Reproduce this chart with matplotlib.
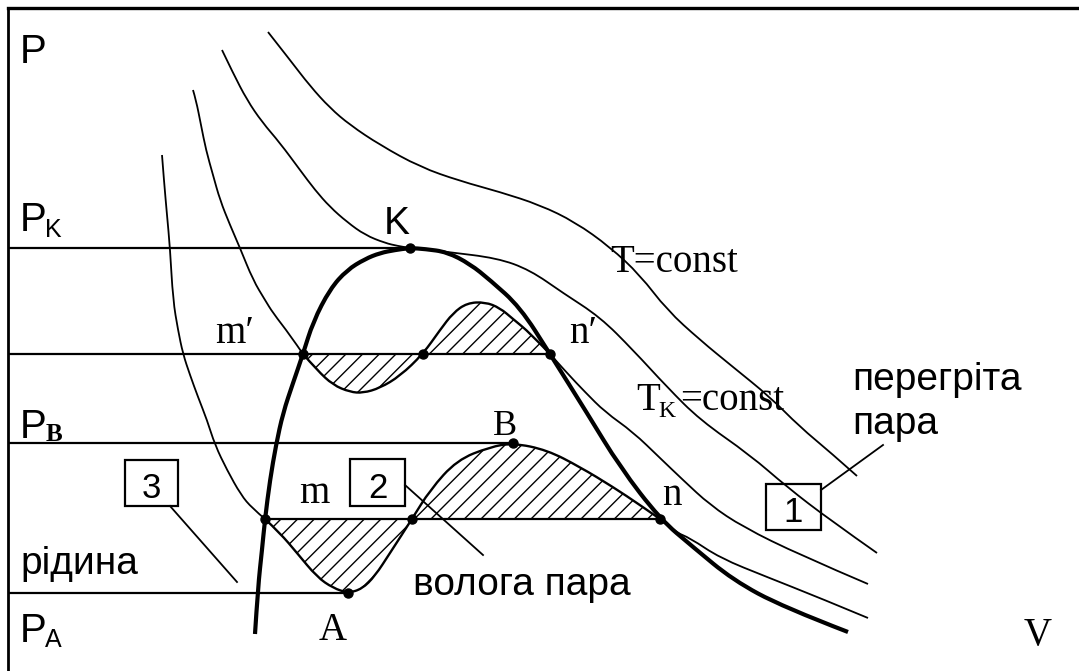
import matplotlib
matplotlib.use("Agg")
import matplotlib.pyplot as plt
from matplotlib.patches import Rectangle, PathPatch
from matplotlib.path import Path

# pressure levels of the horizontal lines
p_k = 423
p_m2 = 317
p_b = 228
p_m = 152
p_a = 78

# isotherm 1 (lowest T): liquid branch, loop m-A-B-n, vapour branch
iso1_left_v = [162, 164, 167, 170, 173, 178, 183, 190, 198, 207, 215, 227, 241, 252, 265]
iso1_left_p = [516, 490, 456, 423, 371, 341, 317, 296, 274, 251, 226, 201, 176, 163, 152]
iso1_loop_v = [265, 280, 297, 317, 333, 348, 362, 375, 390, 412, 430, 457, 490, 513, 547, 580, 613, 640, 660]
iso1_loop_p = [152, 138, 118, 94, 83, 78, 82, 95, 118, 152, 181, 211, 224, 228, 221, 204, 184, 166, 152]
iso1_right_v = [660, 675, 690, 720, 767, 820, 868]
iso1_right_p = [152, 139, 133, 113, 94, 73, 53]

# isotherm 2: liquid branch, loop m'-n', vapour branch
iso2_left_v = [193, 196, 201, 206, 213, 220, 230, 240, 253, 265, 273, 290, 303]
iso2_left_p = [581, 571, 546, 521, 496, 471, 446, 423, 391, 371, 358, 336, 317]
iso2_loop_v = [303, 317, 333, 350, 363, 380, 400, 423, 440, 453, 467, 485, 500, 513, 530, 550]
iso2_loop_p = [317, 301, 286, 279, 278, 283, 295, 317, 341, 358, 368, 369, 363, 352, 338, 317]
iso2_right_v = [550, 567, 585, 605, 633, 660, 683, 710, 743, 800, 868]
iso2_right_p = [317, 298, 279, 259, 239, 213, 191, 166, 144, 116, 87]

# critical isotherm T_K
iso_k_v = [222, 233, 247, 262, 280, 300, 315, 330, 347, 365, 385, 398, 410, 425, 447, 497, 530, 563, 600, 633, 667, 700, 750, 787, 830, 877]
iso_k_p = [621, 598, 571, 549, 528, 501, 481, 464, 449, 436, 428, 425, 423, 422, 419, 413, 401, 378, 354, 321, 284, 251, 216, 184, 151, 118]

# isotherm above critical
iso_t_v = [268, 290, 310, 330, 350, 380, 420, 460, 500, 540, 575, 610, 640, 667, 700, 733, 770, 800, 830, 857]
iso_t_p = [639, 611, 585, 563, 546, 526, 504, 490, 479, 466, 449, 424, 396, 361, 331, 304, 274, 244, 219, 195]

# saturation curve through K
sat_v = [255, 258, 262, 265, 270, 276, 283, 293, 303, 313, 330, 347, 365, 380, 395, 410, 425, 447, 470, 490, 520, 550, 587, 620, 660, 693, 733, 783, 848]
sat_p = [37, 84, 121, 152, 191, 226, 258, 288, 317, 349, 382, 401, 412, 418, 421, 423, 422, 419, 407, 391, 364, 317, 258, 204, 152, 124, 91, 64, 39]

# marked points: m, A, B, n, m', n', K and the loop crossings
dot_v = [265, 348, 412, 513, 660, 303, 423, 550, 410]
dot_p = [152, 78, 152, 228, 152, 317, 317, 317, 423]

# horizontal lines: (start, end, level)
hlines = [(8, 410, p_k), (8, 550, p_m2), (8, 513, p_b), (265, 660, p_m), (8, 348, p_a)]

# numbered boxes: (left, bottom, right, top, label) and their leader lines
boxes = [(125, 165, 178, 211, "3"), (350, 165, 405, 212, "2"), (766, 141, 821, 187, "1")]
leaders = [((170, 237), (165, 89)), ((405, 483), (186, 116)), ((821, 883), (181, 226))]

sans = "Liberation Sans"
serif = "Liberation Serif"


def smooth_path(xs, ys, close=False):
    # quadratic B-spline through the midpoints, clamped at both ends
    pts = list(zip(xs, ys))
    verts = [pts[0]]
    codes = [Path.MOVETO]
    for i in range(1, len(pts) - 1):
        if i < len(pts) - 2:
            end = ((pts[i][0] + pts[i + 1][0]) / 2, (pts[i][1] + pts[i + 1][1]) / 2)
        else:
            end = pts[-1]
        verts += [pts[i], end]
        codes += [Path.CURVE3, Path.CURVE3]
    if close:
        verts.append(pts[0])
        codes.append(Path.CLOSEPOLY)
    return Path(verts, codes)


def curve(ax, xs, ys, lw):
    ax.add_patch(PathPatch(smooth_path(xs, ys), fill=False, lw=lw, ec="black",
                           joinstyle="round", capstyle="butt"))


fig = plt.figure(figsize=(10.79, 6.71), dpi=100)
ax = fig.add_axes([8 / 1079, 0, 1071 / 1079, 663 / 671])
ax.set_xlim(8, 1079)
ax.set_ylim(0, 663)
ax.set_xticks([])
ax.set_yticks([])
for side in ["right", "bottom"]:
    ax.spines[side].set_visible(False)
ax.spines["left"].set_linewidth(2)
ax.spines["top"].set_linewidth(2.4)

# hatched areas between the loops and the straight lines
for lv, lp in [(iso1_loop_v, iso1_loop_p), (iso2_loop_v, iso2_loop_p)]:
    ax.add_patch(PathPatch(smooth_path(lv, lp, close=True), hatch="//",
                           facecolor="none", edgecolor="black", lw=0))

for x0, x1, lev in hlines:
    ax.plot([x0, x1], [lev, lev], color="black", lw=1.6)

curve(ax, iso1_left_v, iso1_left_p, 1.3)
curve(ax, iso1_loop_v, iso1_loop_p, 1.7)
curve(ax, iso1_right_v, iso1_right_p, 1.3)
curve(ax, iso2_left_v, iso2_left_p, 1.3)
curve(ax, iso2_loop_v, iso2_loop_p, 1.7)
curve(ax, iso2_right_v, iso2_right_p, 1.3)
curve(ax, iso_k_v, iso_k_p, 1.3)
curve(ax, iso_t_v, iso_t_p, 1.3)
curve(ax, sat_v, sat_p, 3)

ax.plot(dot_v, dot_p, "o", color="black", ms=6.5, ls="none")

for x0, y0, x1, y1, num in boxes:
    ax.add_patch(Rectangle((x0, y0), x1 - x0, y1 - y0, fill=False, lw=1.6, ec="black"))
    ax.text((x0 + x1) / 2, y0 + 8, num, fontsize=25, family=sans, ha="center", va="baseline")
for xs, ys in leaders:
    ax.plot(xs, ys, color="black", lw=1.3)

# axis letters
ax.text(20, 619, "P", fontsize=29, family=sans, va="center")
ax.text(20, 451, "P", fontsize=29, family=sans, va="center")
ax.text(45, 434, "K", fontsize=18, family=sans, va="baseline")
ax.text(20, 244, "P", fontsize=29, family=sans, va="center")
ax.text(46, 230, "B", fontsize=18, family=serif, va="baseline", weight="bold")
ax.text(20, 40, "P", fontsize=29, family=sans, va="center")
ax.text(45, 24, "A", fontsize=18, family=sans, va="baseline")
ax.text(1038, 26, "V", fontsize=28, family=serif, ha="center", va="baseline")

# point names
ax.text(397, 437, "K", fontsize=28, family=sans, ha="center", va="baseline")
ax.text(235, 328, "m\u2032", fontsize=28, family=serif, ha="center", va="baseline")
ax.text(583, 328, "n\u2032", fontsize=28, family=serif, ha="center", va="baseline")
ax.text(505, 236, "B", fontsize=26, family=serif, ha="center", va="baseline")
ax.text(314, 168, "m", fontsize=28, family=serif, ha="center", va="baseline")
ax.text(672, 166, "n", fontsize=28, family=serif, ha="center", va="baseline")
ax.text(333, 31, "A", fontsize=28, family=serif, ha="center", va="baseline")

# isotherm names
ax.text(610, 399, "T=const", fontsize=28, family=serif, va="baseline")
ax.text(636, 261, "T", fontsize=28, family=serif, va="baseline")
ax.text(658, 254, "K", fontsize=17, family=serif, va="baseline")
ax.text(680, 261, "=const", fontsize=28, family=serif, va="baseline")

# phase regions
ax.text(20, 97, "рідина", fontsize=28, family=sans, va="baseline")
ax.text(413, 76, "волога пара", fontsize=28, family=sans, va="baseline")
ax.text(852, 281, "перегріта", fontsize=28, family=sans, va="baseline")
ax.text(852, 237, "пара", fontsize=28, family=sans, va="baseline")

fig.savefig("out.png", dpi=100)
